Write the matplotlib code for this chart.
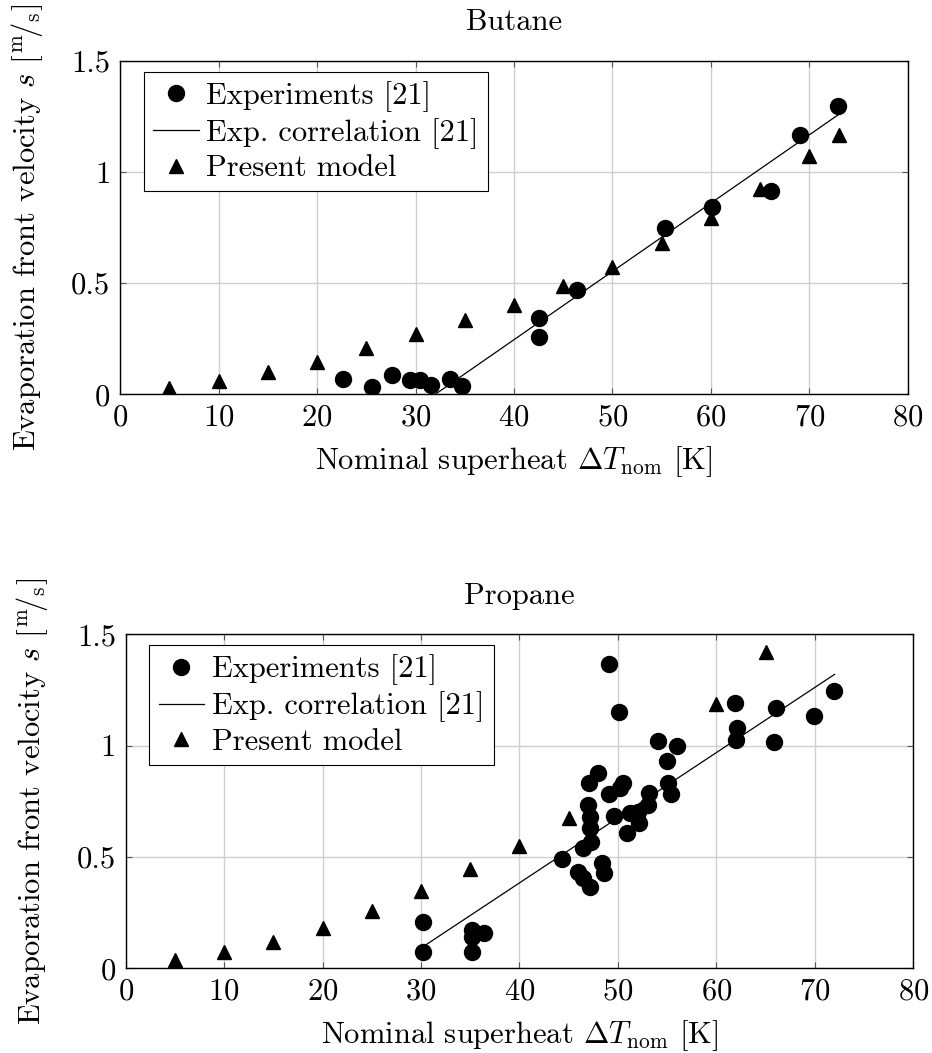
import matplotlib
matplotlib.use("Agg")
import matplotlib.pyplot as plt
from matplotlib.ticker import FuncFormatter

plt.rcParams['font.family'] = 'serif'
plt.rcParams['font.serif'] = ['cmr10']
plt.rcParams['mathtext.fontset'] = 'cm'
plt.rcParams['axes.formatter.use_mathtext'] = True

# Butane data
butane_exp_x = [22.6, 25.6, 27.6, 29.4, 30.5, 31.6, 33.5, 34.7, 42.5, 42.5, 46.4, 55.3, 60.1, 66.1, 69.0, 72.9]
butane_exp_y = [0.067, 0.034, 0.087, 0.064, 0.064, 0.042, 0.067, 0.037, 0.342, 0.256, 0.469, 0.746, 0.841, 0.914, 1.166, 1.296]
butane_corr_x = [32.0, 72.9]
butane_corr_y = [0.0, 1.256]
butane_model_x = [5, 10, 15, 20, 25, 30, 35, 40, 45, 50, 55, 60, 65, 70, 73]
butane_model_y = [0.027, 0.061, 0.099, 0.147, 0.207, 0.271, 0.334, 0.401, 0.487, 0.574, 0.679, 0.791, 0.922, 1.071, 1.166]

# Propane data
propane_exp_x = [30.2, 30.2, 35.2, 35.2, 35.2, 36.4,
                 44.3, 45.9, 46.5, 47.2, 46.5, 47.3, 47.2, 47.2, 47.0, 47.1, 48.0, 48.4, 48.6,
                 49.1, 50.1, 49.1, 50.5, 50.2, 49.6, 50.95, 51.2, 52.1, 53.1, 53.2, 52.0,
                 54.1, 55.96, 54.95, 55.1, 55.4,
                 61.9, 62.1, 62.0, 66.05, 65.85, 69.9, 71.9]
propane_exp_y = [0.206, 0.075, 0.072, 0.142, 0.172, 0.160,
                 0.491, 0.434, 0.404, 0.367, 0.539, 0.569, 0.629, 0.681, 0.733, 0.831, 0.878, 0.474, 0.427,
                 1.366, 1.149, 0.783, 0.834, 0.810, 0.685, 0.606, 0.696, 0.651, 0.733, 0.789, 0.700,
                 1.021, 0.998, 0.932, 0.831, 0.781,
                 1.193, 1.080, 1.025, 1.167, 1.017, 1.134, 1.245]
propane_corr_x = [30.3, 72.0]
propane_corr_y = [0.10, 1.32]
propane_model_x = [5, 10, 15, 20, 25, 30, 35, 40, 45, 60, 65]
propane_model_y = [0.037, 0.075, 0.120, 0.180, 0.257, 0.349, 0.444, 0.549, 0.673, 1.187, 1.419]

FS = 22

fig = plt.figure(figsize=(9.32, 10.53), dpi=100)
ax1 = fig.add_axes([0.1288, 0.6255, 0.8454, 0.3169])
ax2 = fig.add_axes([0.1349, 0.0804, 0.8450, 0.3172])


def draw(ax, title, ex, ey, cx, cy, mx, my):
    ax.plot(ex, ey, 'o', color='black', markersize=11.5, linestyle='none', label='Experiments [21]')
    ax.plot(cx, cy, '-', color='black', linewidth=0.9, label='Exp. correlation [21]')
    ax.plot(mx, my, '^', color='black', markersize=10, linestyle='none', label='Present model')
    ax.set_xlim(0, 80)
    ax.set_ylim(0, 1.5)
    ax.set_xticks(range(0, 81, 10))
    ax.set_yticks([0, 0.5, 1, 1.5])
    ax.yaxis.set_major_formatter(FuncFormatter(lambda v, p: '%g' % v))
    ax.grid(True, color='#cfcfcf', linewidth=1)
    ax.set_axisbelow(True)
    ax.tick_params(direction='in', top=True, right=True, length=4, width=0.8,
                   color='#555555', labelsize=FS, pad=7)
    for s in ax.spines.values():
        s.set_linewidth(1)
    ax.set_title(title, fontsize=FS, pad=22)
    ax.set_xlabel(r'Nominal superheat $\Delta T_{\mathrm{nom}}$ [K]', fontsize=FS, labelpad=9)
    ax.set_ylabel(r'Evaporation front velocity $s$ $\left[{}^{\mathrm{m}}\!/{}_{\mathrm{s}}\right]$',
                  fontsize=FS, labelpad=19)
    leg = ax.legend(loc='upper left', bbox_to_anchor=(0.03, 0.967), borderaxespad=0,
                    fontsize=FS, frameon=True, fancybox=False,
                    edgecolor='black', framealpha=1, borderpad=0.3, labelspacing=0.2,
                    handlelength=1.5, handletextpad=0.25)
    leg.get_frame().set_linewidth(0.8)


draw(ax1, 'Butane', butane_exp_x, butane_exp_y, butane_corr_x, butane_corr_y,
     butane_model_x, butane_model_y)
draw(ax2, 'Propane', propane_exp_x, propane_exp_y, propane_corr_x, propane_corr_y,
     propane_model_x, propane_model_y)

fig.savefig('out.png', dpi=100)
